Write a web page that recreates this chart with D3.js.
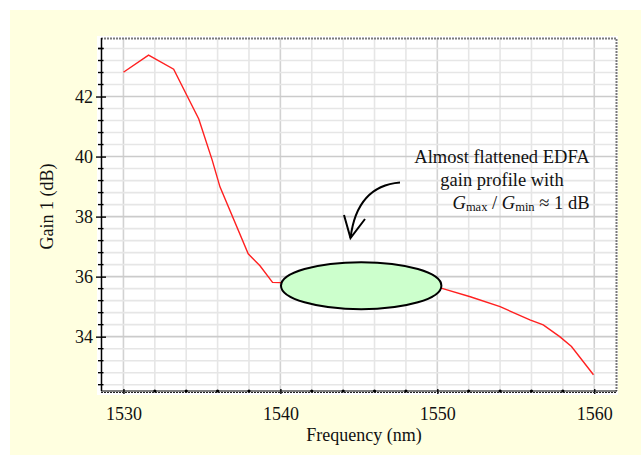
<!DOCTYPE html>
<html>
<head>
<meta charset="utf-8">
<script src="https://d3js.org/d3.v7.min.js"></script>
<style>
  body { margin: 0; background: #ffffff; }
  text { font-family: "Liberation Serif", "DejaVu Serif", serif; fill: #111; }
</style>
</head>
<body>
<div id="gainChart"></div>
<script>
// Gain curve (nm, dB)
var wavelength = [1530, 1531.6, 1533.2, 1534.8, 1535.65, 1536.15, 1537.95, 1538.7, 1539.5, 1540,
                  1542, 1544, 1546, 1548, 1550.3, 1552.1, 1554, 1555.9, 1556.75, 1557.8, 1558.55, 1559.95]
var gain = [42.81, 43.38, 42.91, 41.25, 39.89, 38.99, 36.76, 36.36, 35.81, 35.80,
            35.78, 35.74, 35.70, 35.66, 35.61, 35.33, 35.00, 34.56, 34.39, 34.00, 33.67, 32.73]

var xTicks = [1530, 1540, 1550, 1560]
var yTicks = [34, 36, 38, 40, 42]
var noteLines = ["Almost flattened EDFA", "gain profile with"]

var W = 641, H = 455
var margin = { left: 101, right: 24, top: 38, bottom: 64 }
var width = W - margin.left - margin.right
var height = H - margin.top - margin.bottom

var svg = d3.select("#gainChart")
    .append("svg")
        .attr("width", W)
        .attr("height", H)

// cream panel
svg.append("rect")
    .attr("x", 10).attr("y", 10)
    .attr("width", W - 10).attr("height", H - 10)
    .attr("fill", "#ffffe0")

var g = svg.append("g")
    .attr("transform", "translate(" + margin.left + ", " + margin.top + ")")

var x = d3.scaleLinear()
    .domain([1528.57, 1561.45])
    .range([0, width])

var y = d3.scaleLinear()
    .domain([32.19, 43.95])
    .range([height, 0])

// white plot area
g.append("rect")
    .attr("x", -4).attr("y", -2)
    .attr("width", width + 5).attr("height", height + 6)
    .attr("fill", "#ffffff")

// Grid
var xMinor = d3.range(1530, 1561, 2)
var yMinor = d3.range(32.4, 43.8, 0.4).map(d => +d.toFixed(1))

g.append("g").selectAll("line")
    .data(xMinor)
    .join("line")
        .attr("x1", d => x(d)).attr("x2", d => x(d))
        .attr("y1", 0).attr("y2", height)
        .attr("stroke", d => (d % 10 == 0) ? "#d2d2d2" : "#e6e6e6")
        .attr("stroke-width", 1.6)

g.append("g").selectAll("line")
    .data(yMinor)
    .join("line")
        .attr("x1", 0).attr("x2", width)
        .attr("y1", d => y(d)).attr("y2", d => y(d))
        .attr("stroke", d => (Math.abs(d % 2) < 0.01) ? "#cbcbcb" : "#e6e6e6")
        .attr("stroke-width", 1.6)

// top + right dotted frame
g.append("path")
    .attr("d", "M0,0.5H" + (width - 0.5) + "V" + height)
    .attr("fill", "none")
    .attr("stroke", "#7a7a7a")
    .attr("stroke-width", 2)
    .attr("stroke-dasharray", "2,1")

// Gain curve
var line = d3.line()
    .x((d, i) => x(wavelength[i]))
    .y(d => y(d))

g.append("path")
    .datum(gain)
    .attr("d", line)
    .attr("fill", "none")
    .attr("stroke", "#ff2020")
    .attr("stroke-width", 1.4)

// Axes
var yAxisMajor = d3.axisLeft(y).tickValues(yTicks).tickSize(5).tickPadding(4).tickFormat(d3.format("d"))
var yAx = g.append("g").call(yAxisMajor)
yAx.select(".domain").remove()
yAx.selectAll(".tick line").attr("x2", -5).attr("x1", 5).attr("stroke", "#000").attr("stroke-width", 1.4)
yAx.selectAll("text").style("font-size", "18px").attr("font-family", null).attr("dy", "0.33em").attr("x", -8)

g.append("g").selectAll("line")
    .data(yMinor.filter(d => Math.abs(d % 2) > 0.01).concat([43.6]))
    .join("line")
        .attr("x1", -3).attr("x2", 2.5)
        .attr("y1", d => y(d)).attr("y2", d => y(d))
        .attr("stroke", "#000").attr("stroke-width", 1.4)

g.append("line")
    .attr("x1", 0.5).attr("x2", 0.5)
    .attr("y1", 0).attr("y2", height)
    .attr("stroke", "#000").attr("stroke-width", 1.5)

var xAxisMajor = d3.axisBottom(x).tickValues(xTicks).tickSize(4).tickPadding(12).tickFormat(d3.format("d"))
var xAx = g.append("g").attr("transform", "translate(0," + height + ")").call(xAxisMajor)
xAx.select(".domain").remove()
xAx.selectAll(".tick line").attr("y1", -2).attr("y2", 3).attr("stroke", "#000").attr("stroke-width", 1.4)
xAx.selectAll("text").style("font-size", "18px").attr("font-family", null)

g.append("g").selectAll("circle")
    .data(xMinor.filter(d => d % 10 != 0))
    .join("circle")
        .attr("cx", d => x(d)).attr("cy", height)
        .attr("r", 1.6).attr("fill", "#000")

g.append("line")
    .attr("x1", 0).attr("x2", width)
    .attr("y1", height).attr("y2", height)
    .attr("stroke", "#000").attr("stroke-width", 1)
g.append("line")
    .attr("x1", 0).attr("x2", width)
    .attr("y1", height + 1.5).attr("y2", height + 1.5)
    .attr("stroke", "#222").attr("stroke-width", 1.2)
    .attr("stroke-dasharray", "2,1")

// Axis labels
g.append("text")
    .attr("x", width / 2 + 5)
    .attr("y", height + 50)
    .attr("font-size", "18px")
    .attr("text-anchor", "middle")
    .text("Frequency (nm)")

g.append("text")
    .attr("transform", "translate(-48," + (height / 2 - 8) + ") rotate(-90)")
    .attr("font-size", "18px")
    .attr("text-anchor", "middle")
    .text("Gain 1 (dB)")

// Annotation: ellipse over the flat region
g.append("ellipse")
    .attr("cx", x(1545.15)).attr("cy", y(35.70))
    .attr("rx", x(1545.15) - x(1540.04)).attr("ry", 23.5)
    .attr("fill", "#ccffcc")
    .attr("stroke", "#000")
    .attr("stroke-width", 2)

// curved arrow
var arrow = g.append("g")
    .attr("transform", "translate(" + -margin.left + "," + -margin.top + ")")
    .attr("fill", "none").attr("stroke", "#000").attr("stroke-width", 2)
arrow.append("path").attr("d", "M400,182.5 Q357,186 350.5,238")
arrow.append("path").attr("d", "M344,215 L350.5,238 L365,219")

// note text
var note = svg.append("g").attr("font-size", "18.5px").attr("text-anchor", "middle")
note.selectAll("text.noteLine")
    .data(noteLines)
    .join("text")
        .attr("class", "noteLine")
        .attr("x", 502)
        .attr("y", (d, i) => 163 + i * 22.5)
        .text(d => d)

var ratio = note.append("text").attr("x", 521).attr("y", 208.5)
ratio.append("tspan").attr("font-style", "italic").text("G")
ratio.append("tspan").attr("font-size", "12.5px").attr("dy", 2).text("max")
ratio.append("tspan").attr("dy", -2).text(" / ")
ratio.append("tspan").attr("font-style", "italic").text("G")
ratio.append("tspan").attr("font-size", "12.5px").attr("dy", 2).text("min")
ratio.append("tspan").attr("dy", -2).text(" \u2248 1 dB")
</script>
</body>
</html>
